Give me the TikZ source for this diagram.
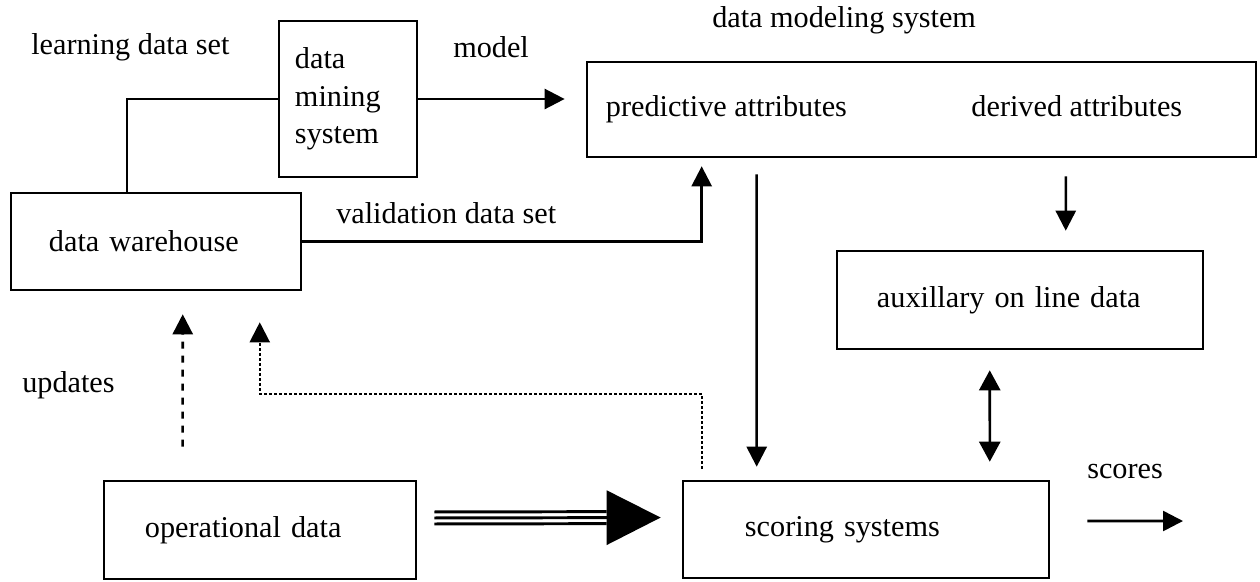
\documentclass[tikz,border=0pt]{standalone}
\usepackage{fontspec}
\setmainfont{Liberation Serif}
\usetikzlibrary{arrows.meta, positioning}
\tikzset{
  box/.style    = {draw, line width=1.8pt, inner sep=0pt, align=left},
  lbl/.style    = {anchor=west, inner sep=0pt},
  conn/.style   = {line width=1.8pt},
  arr/.style    = {-{Triangle[length=0.5cm,width=0.5cm]}, line width=1.8pt},
  dblarr/.style = {{Triangle[length=0.5cm,width=0.525cm]}-{Triangle[length=0.5cm,width=0.525cm]},
                   line width=1.8pt},
  dashline/.style = {dash pattern=on 0.175cm off 0.175cm},
  dotline/.style  = {dash pattern=on 0.0625cm off 0.0625cm, line width=1.5pt},
  tline/.style  = {line width=2.1pt, shorten <=0.425cm, shorten >=1.875cm},
  bigarr/.style = {-{Triangle[length=1.35cm,width=1.35cm]}, line width=2.1pt,
                   shorten <=0.425cm, shorten >=0.525cm}
}

\begin{document}
\begin{tikzpicture}[x=0.025cm, y=-0.025cm, font=\fontsize{21.5}{26.5}\selectfont]
  \useasboundingbox (0,0) rectangle (1260,581);
  % boxes
  \node[box, minimum width=3.45cm, minimum height=3.9cm, text width=2.65cm]
    (mine) at (348,99) {data\\mining\\system};
  \node[box, minimum width=16.725cm, minimum height=2.375cm] (modsys) at (921.5,109.5) {};
  \node[lbl, right=0.5cm of modsys.west] (pred) {predictive attributes};
  \node[lbl, base right=3.1cm of pred] (deriv) {derived attributes};
  \node[box, minimum width=7.25cm, minimum height=2.425cm, text width=5.35cm]
    (wh) at (156,241.5) {data warehouse};
  \node[box, minimum width=9.15cm, minimum height=2.45cm, text width=7.15cm]
    (aux) at (1020,300) {auxillary on line data};
  \node[box, minimum width=7.8cm, minimum height=2.45cm, text width=5.75cm]
    (oper) at (260,530) {operational data};
  \node[box, minimum width=9.15cm, minimum height=2.425cm, text width=6.05cm]
    (score) at (866,529.5) {scoring systems};

  % labels
  \node[lbl] (learn) at (31,47)   {learning data set};
  \node[lbl] (mdl)   at (453,47)  {model};
  \node[lbl] (dms)   at (712,20)  {data modeling system};
  \node[lbl] (valid) at (336,213) {validation data set};
  \node[lbl] (upd)   at (22,385)  {updates};
  \node[lbl] (scr)   at (1087,472) {scores};
  \coordinate (scend) at (1183,521);

  % connectors
  \draw[conn] ([xshift=-0.725cm]wh.north) |- (mine.west);
  \draw[arr, shorten >=0.525cm] (mine.east) -- (mine.east -| modsys.west);
  \draw[arr, shorten >=0.2cm] (wh.east) -| ([xshift=2.9cm]modsys.south west);
  \draw[arr, shorten <=0.4cm, shorten >=0.325cm]
    ([xshift=4.275cm]modsys.south west) -- ([xshift=1.875cm]score.north west);
  \draw[arr, shorten <=0.45cm, shorten >=0.475cm]
    ([xshift=12cm]modsys.south west) -- ([xshift=5.75cm]aux.north west);
  \draw[dblarr, shorten <=0.5cm, shorten >=0.45cm]
    ([xshift=3.85cm]aux.south west) -- ([xshift=7.7cm]score.north west);
  \draw[arr, shorten <=0.925cm] ([yshift=0.2125cm]score.east) -- (scend);
  \draw[arr, dashline, shorten <=0.825cm, shorten >=0.575cm]
    ([xshift=2cm]oper.north west) -- ([xshift=4.325cm]wh.south west);
  \draw[arr, dotline, shorten <=0.275cm, shorten >=0.775cm]
    ([xshift=0.5cm]score.north west) -- ++(0,-86) -| ([xshift=6.25cm]wh.south west);

  % triple line into scoring
  \draw[bigarr] ([yshift=0.3cm]oper.east) -- ([yshift=0.3cm]score.west);
  \draw[tline] ([yshift=0.45cm]oper.east) -- ([yshift=0.45cm]score.west);
  \draw[tline] ([yshift=0.15cm]oper.east) -- ([yshift=0.15cm]score.west);
\end{tikzpicture}
\end{document}
